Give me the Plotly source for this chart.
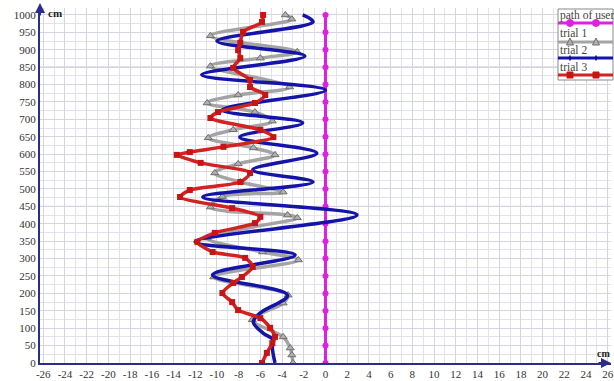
import plotly.graph_objects as go

# ---------------- data ----------------
path_y = [0, 50, 100, 150, 200, 250, 300, 350, 400, 450, 500,
          550, 600, 650, 700, 750, 800, 850, 900, 950, 1000]
path_x = [0] * len(path_y)

trial1_y = [1000, 988, 940, 894, 876, 853, 793, 770, 747, 721, 695, 670, 647, 618,
            598, 572, 546, 520, 491, 478, 448, 425, 417, 359, 319, 296, 247, 195,
            172, 124, 75, 43, 23, 0]
trial1_x = [-3.7, -3.1, -10.6, -2.6, -6.0, -10.6, -3.3, -8.05, -10.9, -6.5, -4.9, -8.5,
            -10.8, -6.65, -4.65, -8.05, -10.2, -7.85, -3.9, -9.5, -10.6, -3.5, -2.6,
            -10.9, -5.8, -2.5, -10.3, -3.45, -3.9, -6.75, -3.9, -3.25, -3.1, -3.0]

trial2_y = [1000, 980, 925, 882, 828, 784, 727, 690, 649, 603, 555, 520, 477, 425,
            348, 310, 253, 195, 144, 118, 86, 66, 46, 0]
trial2_x = [-2.1, -1.15, -10.0, -1.9, -11.4, 0.0, -9.5, -2.1, -7.9, -0.8, -6.7, -1.15,
            -11.3, 2.9, -12.0, -2.8, -10.4, -3.5, -6.0, -6.65, -5.75, -4.8, -4.9, -4.65]

trial3_y = [1000, 980, 951, 920, 899, 876, 848, 813, 793, 770, 747, 721, 704, 670, 649,
            621, 606, 598, 575, 546, 520, 497, 477, 445, 420, 402, 374, 348, 319, 302,
            276, 247, 230, 201, 175, 152, 129, 101, 75, 57, 29, 0]
trial3_x = [-5.75, -5.85, -7.6, -7.85, -8.05, -7.85, -8.5, -6.95, -6.95, -5.55, -6.5,
            -9.9, -10.6, -6.0, -4.8, -9.4, -12.5, -13.7, -11.5, -6.95, -7.85, -12.5,
            -13.4, -8.6, -6.0, -6.5, -10.2, -11.8, -10.4, -7.4, -6.7, -7.7, -8.5, -9.5,
            -8.6, -8.05, -6.0, -5.1, -4.65, -4.9, -5.4, -5.85]

x_tickvals = [-26, -24, -22, -20, -18, -16, -14, -12, -10, -8, -6, -4, -2, 0,
              2, 4, 6, 8, 10, 12, 14, 16, 18, 20, 22, 24, 26]
x_ticktext = ["-26", "-24", "-22", "-20", "-18", "-16", "-14", "-12", "-10", "-8", "-6",
              "-4", "-2", "0", "2", "4", "6", "8", "10", "12", "14", "16", "18", "20",
              "22", "24", "26"]
y_tickvals = [0, 50, 100, 150, 200, 250, 300, 350, 400, 450, 500,
              550, 600, 650, 700, 750, 800, 850, 900, 950, 1000]
y_ticktext = ["0", "50", "100", "150", "200", "250", "300", "350", "400", "450", "500",
              "550", "600", "650", "700", "750", "800", "850", "900", "950", "1000"]

legend_names = ["path of user", "trial 1", "trial 2", "trial 3"]

# ---------------- styles ----------------
C_PATH = "#e020e0"
C_T1 = "#a4a4a4"
C_T2 = "#1414a8"
C_T3 = "#d22222"
AXC = "#2c2c8c"
FONT = "Liberation Serif"

W_FIG, H_FIG = 614, 381
L, R, T, B = 40, 3, 8, 18
PW, PH = W_FIG - L - R, H_FIG - T - B


def px_x(p):
    return (p - L) / PW


def px_y(p):
    return 1 - (p - T) / PH


fig = go.Figure()

fig.add_trace(go.Scatter(x=path_x, y=path_y, mode="lines+markers",
                         line=dict(color=C_PATH, width=3),
                         marker=dict(symbol="circle", size=6, color=C_PATH),
                         name=legend_names[0], showlegend=False))
fig.add_trace(go.Scatter(x=trial1_x, y=trial1_y, mode="lines+markers",
                         line=dict(color=C_T1, width=3.5, shape="spline", smoothing=1),
                         marker=dict(symbol="triangle-up", size=7, color="#b0b0b0",
                                     line=dict(color="#6e6e6e", width=1)),
                         name=legend_names[1], showlegend=False))
fig.add_trace(go.Scatter(x=trial2_x, y=trial2_y, mode="lines",
                         line=dict(color=C_T2, width=3.5, shape="spline", smoothing=1),
                         name=legend_names[2], showlegend=False))
fig.add_trace(go.Scatter(x=trial3_x, y=trial3_y, mode="lines+markers",
                         line=dict(color=C_T3, width=3.5, shape="spline", smoothing=0.7),
                         marker=dict(symbol="square", size=6, color="#c81414"),
                         name=legend_names[3], showlegend=False))

shapes = []
annotations = []

# darker grid lines (as in reference)
for yv in (450, 850):
    shapes.append(dict(type="line", xref="paper", yref="y", x0=0, x1=1, y0=yv, y1=yv,
                       line=dict(color="#a8a8c8", width=1), layer="between"))

# legend box
shapes.append(dict(type="rect", xref="paper", yref="paper",
                   x0=px_x(558), x1=px_x(613), y0=px_y(80), y1=px_y(9),
                   line=dict(color="#8a8a8a", width=1), fillcolor="white", layer="above"))
text_y = [16, 33, 50, 67]
line_y = [23, 42, 58, 75]
line_c = [C_PATH, C_T1, C_T2, C_T3]
for i, nm in enumerate(legend_names):
    annotations.append(dict(xref="paper", yref="paper", x=px_x(558), y=px_y(text_y[i]),
                            text=nm, showarrow=False, xanchor="left", yanchor="middle",
                            font=dict(family=FONT, size=11.5, color="#444")))
    shapes.append(dict(type="line", xref="paper", yref="paper",
                       x0=px_x(558), x1=px_x(613), y0=px_y(line_y[i]), y1=px_y(line_y[i]),
                       line=dict(color=line_c[i], width=3), layer="above"))
for mx in (570, 596):
    shapes.append(dict(type="circle", xref="paper", yref="paper",
                       x0=px_x(mx - 3.5), x1=px_x(mx + 3.5),
                       y0=px_y(line_y[0] + 3.5), y1=px_y(line_y[0] - 3.5),
                       fillcolor=C_PATH, line=dict(color=C_PATH, width=1), layer="above"))
    ty = line_y[1]
    path = "M {} {} L {} {} L {} {} Z".format(px_x(mx - 3.5), px_y(ty + 3), px_x(mx + 3.5),
                                            px_y(ty + 3), px_x(mx), px_y(ty - 4))
    shapes.append(dict(type="path", xref="paper", yref="paper", path=path,
                       fillcolor="#b0b0b0", line=dict(color="#6e6e6e", width=1), layer="above"))
    shapes.append(dict(type="line", xref="paper", yref="paper",
                       x0=px_x(mx), x1=px_x(mx), y0=px_y(line_y[2] - 2.5), y1=px_y(line_y[2] + 2.5),
                       line=dict(color="#0a0a70", width=1.5), layer="above"))
    sy = line_y[3]
    shapes.append(dict(type="rect", xref="paper", yref="paper",
                       x0=px_x(mx - 3), x1=px_x(mx + 3), y0=px_y(sy + 3), y1=px_y(sy - 3),
                       fillcolor="#c81414", line=dict(color="#c81414", width=1), layer="above"))

# axis arrows
annotations.append(dict(xref="paper", yref="paper", x=0, y=px_y(3), ax=0, ay=14,
                        text="", showarrow=True, arrowhead=2, arrowsize=1,
                        arrowwidth=2, arrowcolor=AXC))
annotations.append(dict(xref="paper", yref="paper", x=px_x(611), y=0, ax=-14, ay=0,
                        text="", showarrow=True, arrowhead=2, arrowsize=1,
                        arrowwidth=2, arrowcolor=AXC))
annotations.append(dict(xref="paper", yref="paper", x=px_x(46), y=px_y(13), text="<b>cm</b>",
                        showarrow=False, xanchor="left", yanchor="middle",
                        font=dict(family=FONT, size=11, color="#222")))
annotations.append(dict(xref="paper", yref="paper", x=px_x(603), y=px_y(353), text="<b>cm</b>",
                        showarrow=False, xanchor="center", yanchor="middle",
                        font=dict(family=FONT, size=10, color="#222")))

fig.update_layout(
    width=W_FIG, height=H_FIG,
    margin=dict(l=L, r=R, t=T, b=B, autoexpand=False),
    paper_bgcolor="white", plot_bgcolor="white",
    shapes=shapes, annotations=annotations,
    showlegend=False, hovermode=False,
    xaxis=dict(range=[-26.3, 26.3], tickmode="array", tickvals=x_tickvals, ticktext=x_ticktext,
               showgrid=True, gridcolor="#d4d4e2", gridwidth=1,
               minor=dict(tickmode="linear", tick0=0, dtick=1, showgrid=True,
                          gridcolor="#e2e2ec", gridwidth=1),
               showline=True, linecolor=AXC, linewidth=2, zeroline=False, ticks="",
               automargin=False,
               tickfont=dict(family=FONT, size=11, color="#333"), fixedrange=True),
    yaxis=dict(range=[0, 1020], tickmode="array", tickvals=y_tickvals, ticktext=y_ticktext,
               showgrid=True, gridcolor="#d4d4e2", gridwidth=1,
               minor=dict(tickmode="linear", tick0=0, dtick=25, showgrid=True,
                          gridcolor="#e2e2ec", gridwidth=1),
               showline=True, linecolor=AXC, linewidth=2, zeroline=False, ticks="",
               automargin=False,
               tickfont=dict(family=FONT, size=11, color="#333"), fixedrange=True),
)

fig.write_html("out.html", config={"displayModeBar": False, "staticPlot": True},
               post_script="document.body.style.margin='0';document.body.style.padding='0';"
                           "document.body.style.overflow='hidden';")
